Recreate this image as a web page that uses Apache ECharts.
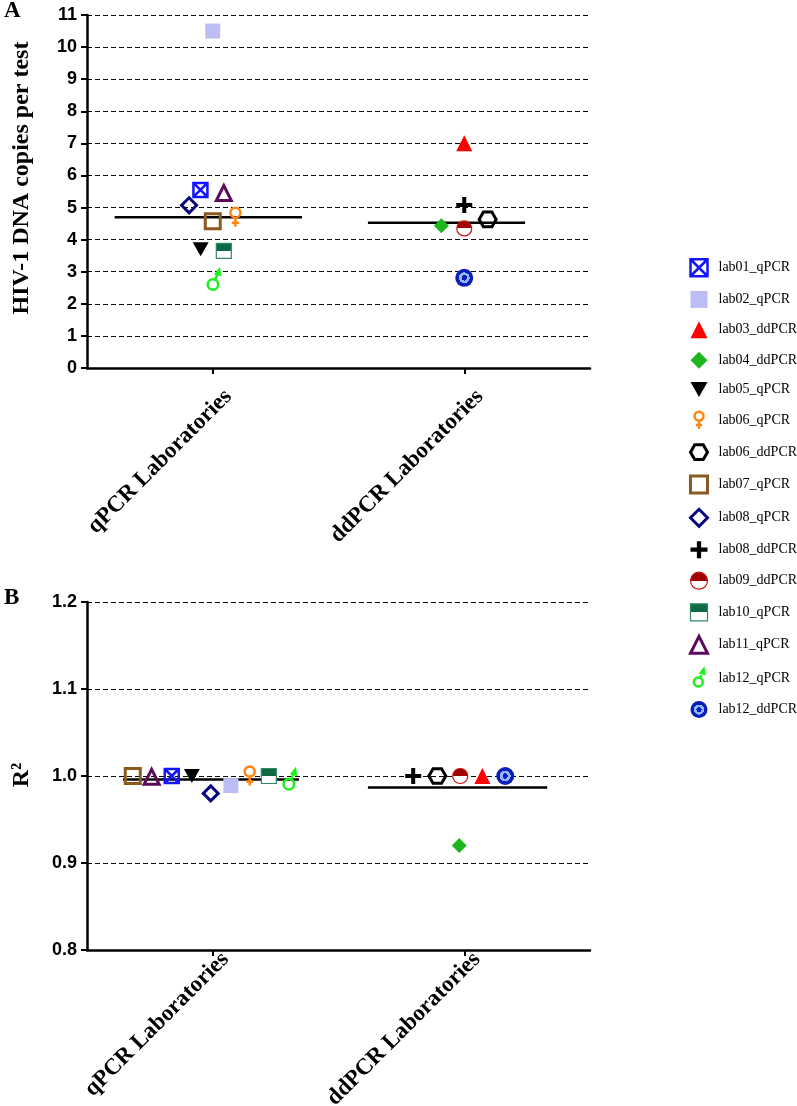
<!DOCTYPE html>
<html><head><meta charset="utf-8">
<script src="https://cdn.jsdelivr.net/npm/echarts@6/dist/echarts.min.js"></script>
<style>html,body{margin:0;padding:0;background:#fff}#c{width:797px;height:1106px}</style>
</head><body><div id="c"></div>
<script>
// ---------------- data ----------------
const categories = ['qPCR Laboratories', 'ddPCR Laboratories'];
const labs = ['lab01_qPCR','lab02_qPCR','lab03_ddPCR','lab04_ddPCR','lab05_qPCR','lab06_qPCR','lab06_ddPCR',
  'lab07_qPCR','lab08_qPCR','lab08_ddPCR','lab09_ddPCR','lab10_qPCR','lab11_qPCR','lab12_qPCR','lab12_ddPCR'];
const methods = ['qPCR','qPCR','ddPCR','ddPCR','qPCR','qPCR','ddPCR','qPCR','qPCR','ddPCR','ddPCR','qPCR','qPCR','qPCR','ddPCR'];
const copiesPerTest = [5.55, 10.5, 7.0, 4.43, 3.7, 4.7, 4.63, 4.57, 5.07, 5.08, 4.35, 3.65, 5.45, 2.75, 2.81];
const rSquared = [1.0, 0.989, 1.0, 0.92, 1.0, 1.0, 1.0, 1.0, 0.98, 1.0, 1.0, 1.0, 0.999, 0.996, 1.0];
const copiesTicks = [0,1,2,3,4,5,6,7,8,9,10,11];
const r2Ticks = [0.8, 0.9, 1.0, 1.1, 1.2];
const yTitleA = 'HIV-1 DNA copies per test';
const yTitleB = 'R²';

// ---------------- layout (horizontal spread of points within a group) ----------------
const groupCenter = {qPCR: 0.5, ddPCR: 1.5};
const spreadA = [-0.049, 0, 0, -0.091, -0.048, 0.09, 0.093, 0, -0.094, 0, 0, 0.044, 0.044, 0.004, 0];
const spreadB = [-0.163, 0.072, 0.072, -0.02, -0.083, 0.147, -0.107, -0.318, -0.008, -0.203, -0.016, 0.223, -0.243, 0.306, 0.163];
const summarySpanA = {qPCR: [0.11, 0.855], ddPCR: [1.117, 1.742]};
const summarySpanB = {qPCR: [0.143, 0.843], ddPCR: [1.117, 1.83]};

// ---------------- styles ----------------
function circ(cx, cy, r) {
  const k = 0.5523 * r;
  return `M${cx},${cy-r}C${cx+k},${cy-r} ${cx+r},${cy-k} ${cx+r},${cy}C${cx+r},${cy+k} ${cx+k},${cy+r} ${cx},${cy+r}` +
         `C${cx-k},${cy+r} ${cx-r},${cy+k} ${cx-r},${cy}C${cx-r},${cy-k} ${cx-k},${cy-r} ${cx},${cy-r}Z`;
}
const NONE = 'rgba(0,0,0,0)';
const halfFill = (c) => ({type:'linear', x:0, y:0, x2:0, y2:1, colorStops:[
  {offset:0, color:c},{offset:0.5, color:c},{offset:0.5, color:'#ffffff'},{offset:1, color:'#ffffff'}]});
const target = {type:'radial', x:0.5, y:0.5, r:0.5, colorStops:[
  {offset:0, color:'#0a1fb8'},{offset:0.3, color:'#0a1fb8'},{offset:0.3, color:'#8fb6ff'},
  {offset:0.6, color:'#8fb6ff'},{offset:0.6, color:'#0a1fb8'},{offset:1, color:'#0a1fb8'}]};
const labStyle = {
  lab01_qPCR: {symbol:'path://M0,0L14,0L14,14L0,14Z M0,0L14,14 M14,0L0,14', size:14, fill:NONE, stroke:'#1414ff', bw:2.5},
  lab02_qPCR: {symbol:'rect', size:15, fill:'#bdbdf5'},
  lab03_ddPCR: {symbol:'triangle', size:16, fill:'#ff0000'},
  lab04_ddPCR: {symbol:'diamond', size:15, fill:'#1fb51f'},
  lab05_qPCR: {symbol:'path://M0,0L16,0L8,14Z', size:16, fill:'#000000'},
  lab06_qPCR: {symbol:'path://' + circ(5,5,5) + 'M5,10L5,19M1.5,15L8.5,15', size:19, fill:NONE, stroke:'#ff8410', bw:2.5},
  lab06_ddPCR: {symbol:'path://M0,8.66L5,0L15,0L20,8.66L15,17.32L5,17.32Z', size:17, fill:NONE, stroke:'#000000', bw:3},
  lab07_qPCR: {symbol:'rect', size:15, fill:NONE, stroke:'#8c5a1e', bw:3},
  lab08_qPCR: {symbol:'diamond', size:15, fill:NONE, stroke:'#05057e', bw:3},
  lab08_ddPCR: {symbol:'path://M6,0L10,0L10,6L16,6L16,10L10,10L10,16L6,16L6,10L0,10L0,6L6,6Z', size:16, fill:'#000000'},
  lab09_ddPCR: {symbol:'circle', size:15, fill:halfFill('#a00000'), stroke:'#c81414', bw:1.2},
  lab10_qPCR: {symbol:'rect', size:15, fill:halfFill('#0e6a45'), stroke:'#2f8a63', bw:1.2},
  lab11_qPCR: {symbol:'triangle', size:15, fill:NONE, stroke:'#5c0b5c', bw:3},
  lab12_qPCR: {symbol:'path://' + circ(5,14,5) + 'M7.2,9.5L9.5,3.5M8,3.8L11,0L11.6,4.6Z', size:20, fill:NONE, stroke:'#1ef01e', bw:2.5},
  lab12_ddPCR: {symbol:'circle', size:18, fill:target}
};

function median(a) { const s = a.slice().sort((x,y)=>x-y); const n = s.length; return n % 2 ? s[(n-1)/2] : (s[n/2-1] + s[n/2]) / 2; }
function mean(a) { return a.reduce((p,c)=>p+c,0) / a.length; }

const series = [];
labs.forEach((name, i) => {
  const st = labStyle[name];
  const common = {
    name, type:'scatter', symbol: st.symbol, symbolSize: st.size, symbolKeepAspect: true, z: 5,
    itemStyle: {color: st.fill, borderColor: st.stroke || NONE, borderWidth: st.bw || 0, opacity: 1},
    emphasis: {disabled: true}
  };
  const cx = groupCenter[methods[i]];
  series.push(Object.assign({}, common, {xAxisIndex:0, yAxisIndex:0, data:[[cx + spreadA[i], copiesPerTest[i]]]}));
  series.push(Object.assign({}, common, {xAxisIndex:1, yAxisIndex:1, data:[[cx + spreadB[i], rSquared[i]]]}));
});
['qPCR','ddPCR'].forEach(m => {
  const a = copiesPerTest.filter((v,i)=>methods[i]===m);
  const b = rSquared.filter((v,i)=>methods[i]===m);
  const med = median(a), mn = mean(b);
  series.push({type:'line', xAxisIndex:0, yAxisIndex:0, symbol:'none', silent:true, z:3,
    lineStyle:{color:'#000', width:2.5}, data: summarySpanA[m].map(x => [x, med])});
  series.push({type:'line', xAxisIndex:1, yAxisIndex:1, symbol:'none', silent:true, z:3,
    lineStyle:{color:'#000', width:2.5}, data: summarySpanB[m].map(x => [x, mn])});
});

const xAxisBase = (gi, labelShift, vAlign, margin) => ({
  type:'value', gridIndex: gi, min:0, max:2,
  axisLine:{show:true, onZero:false, lineStyle:{color:'#000', width:2.5}},
  axisTick:{show:true, customValues:[0.5,1.5], length:6, lineStyle:{color:'#000', width:2}},
  axisLabel:{customValues:[0.5 + labelShift, 1.5 + labelShift], formatter: v => categories[Math.floor(v)],
    rotate:45, margin, verticalAlign:vAlign, align:'right',
    fontFamily:'Liberation Serif', fontWeight:'bold', fontSize:23, color:'#000'},
  splitLine:{show:false}
});
const yAxisBase = (gi, ticks, fmt) => ({
  type:'value', gridIndex: gi, min: ticks[0], max: ticks[ticks.length-1],
  interval: Math.round((ticks[1]-ticks[0])*1000)/1000,
  axisLine:{show:true, lineStyle:{color:'#000', width:2.5}},
  axisTick:{show:true, length:6, lineStyle:{color:'#000', width:2}},
  axisLabel:{fontFamily:'Liberation Sans', fontWeight:'bold', fontSize:18, color:'#000', margin:10, formatter: fmt},
  splitLine:{show:true, lineStyle:{type:[5,3], color:'#000', width:1}}
});

const legendData = labs.map(n => {
  const st = labStyle[n];
  return {name:n, icon: st.symbol, itemStyle:{color: st.fill, borderColor: st.stroke || NONE, borderWidth: st.bw || 0}};
});

const titleFont = 'bold 24px "Liberation Serif"';
const chart = echarts.init(document.getElementById('c'), null, {renderer:'canvas'});
chart.setOption({
  animation:false,
  backgroundColor:'#ffffff',
  grid:[
    {left:87, right:207, top:15, bottom:738, outerBoundsMode:'none'},
    {left:87, right:207, top:602, bottom:156, outerBoundsMode:'none'}
  ],
  xAxis:[xAxisBase(0, 0.03, 'top', 17), xAxisBase(1, 0.05, 'middle', 6)],
  yAxis:[
    yAxisBase(0, copiesTicks, v => String(v)),
    yAxisBase(1, r2Ticks, v => v.toFixed(1))
  ],
  legend:{orient:'vertical', left:684, top:253, itemWidth:17, itemHeight:17, itemGap:13.4, selectedMode:false,
    textStyle:{fontFamily:'Liberation Serif', fontSize:14, color:'#000', padding:[0,0,0,6]}, data: legendData},
  graphic:[
    {type:'text', left:4, top:0, style:{text:'A', font:'bold 23px "Liberation Serif"', fill:'#000'}},
    {type:'text', left:4, top:587, style:{text:'B', font:'bold 23px "Liberation Serif"', fill:'#000'}},
    {type:'text', x:22, y:178, rotation:Math.PI/2, style:{text:yTitleA, font:titleFont, fill:'#000', align:'center', verticalAlign:'middle'}},
    {type:'text', x:22, y:775, rotation:Math.PI/2, style:{text:yTitleB, font:titleFont, fill:'#000', align:'center', verticalAlign:'middle'}}
  ],
  series
});
</script></body></html>
